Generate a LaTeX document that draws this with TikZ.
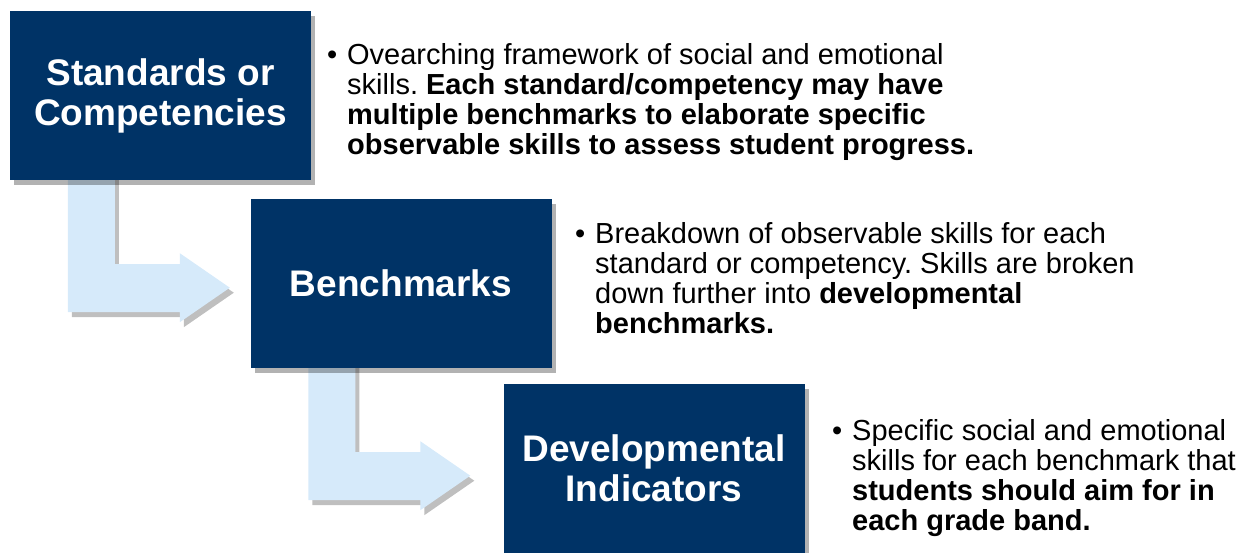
\documentclass[tikz,border=0pt]{standalone}
\usepackage{fontspec}
\setmainfont{Liberation Sans}
\usetikzlibrary{shadows,backgrounds}
\definecolor{navy}{RGB}{0,51,102}
\definecolor{paleblue}{RGB}{214,234,250}
\tikzset{
  level/.style={fill=navy, text=white, minimum width=301pt, minimum height=169pt,
    inner sep=0pt, align=center, font=\fontsize{37}{40}\selectfont\bfseries,
    drop shadow={shadow xshift=4pt, shadow yshift=-5pt, opacity=0.3, fill=black}},
  bentarrow/.style={fill=paleblue,
    drop shadow={shadow xshift=4pt, shadow yshift=-5pt, opacity=0.25, fill=black}},
  note/.style={anchor=base west, inner sep=0pt, font=\fontsize{29}{30}\selectfont}
}
\newcommand{\bul}{\leavevmode\llap{\textbullet\hspace{10pt}}}
\frenchspacing
\begin{document}
\begin{tikzpicture}[x=1pt,y=-1pt]
\useasboundingbox (0,0) rectangle (1245,552);
% levels
\node[level] (std) at (160.5,95.5) {Standards or\\Competencies};
\node[level] (bench) at (401,283.5) {Benchmarks};
\node[level] (dev) at (654,468.5) {Developmental\\Indicators};
% descriptions
\node[note] (stdnote) at (347,64) {\parbox[t]{700pt}{\bul Ovearching framework of social and emotional\\
  skills. \textbf{Each standard/competency may have}\\
  \textbf{multiple benchmarks to elaborate specific}\\
  \textbf{observable skills to assess student progress.}}};
\node[note] (benchnote) at (595,243) {\parbox[t]{700pt}{\bul Breakdown of observable skills for each\\
  standard or competency. Skills are broken\\
  down further into \textbf{developmental}\\
  \textbf{benchmarks.}}};
\node[note] (devnote) at (852,440) {\parbox[t]{700pt}{\bul Specific social and emotional\\
  skills for each benchmark that\\
  \textbf{students should aim for in}\\
  \textbf{each grade band.}}};
% bent arrows
\begin{pgfonlayer}{background}
\foreach \from in {std,bench}{
  \begin{scope}[shift={(\from.south west)}]
    \fill[bentarrow] (58,-5) -- (105,-5) -- (105,84) -- (170,84) -- (170,73)
      -- (220,107.5) -- (170,142) -- (170,132) -- (58,132) -- cycle;
  \end{scope}
}
\end{pgfonlayer}
\end{tikzpicture}
\end{document}
